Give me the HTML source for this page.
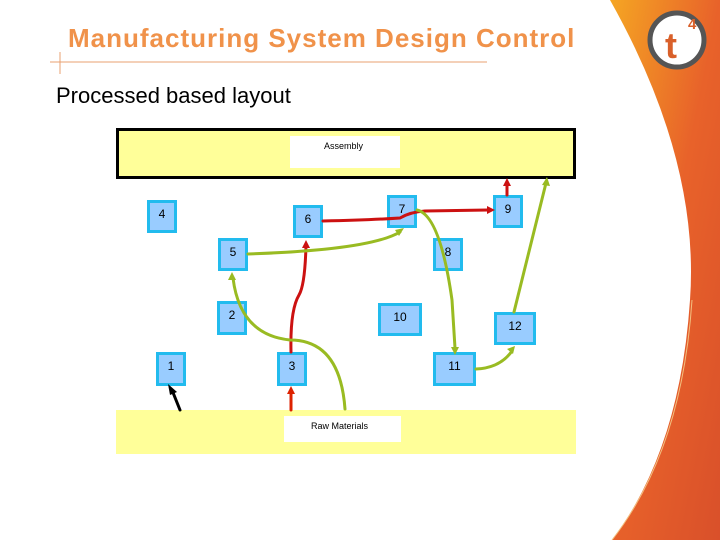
<!DOCTYPE html>
<html><head><style>
body{margin:0;width:720px;height:540px;overflow:hidden;background:#fff;font-family:"Liberation Sans",sans-serif;position:relative}
.t{position:absolute;white-space:nowrap}
.b{position:absolute;background:#99ccff;border:3px solid #22bbee;box-sizing:border-box;font-size:12px;text-align:center;line-height:22px}
</style></head><body>
<svg width="720" height="540" style="position:absolute;left:0;top:0">
<defs>
<linearGradient id="g" x1="0" y1="0" x2="1" y2="1"><stop offset="0" stop-color="#f5a623"/><stop offset="0.5" stop-color="#e8622a"/><stop offset="1" stop-color="#d9502a"/></linearGradient>
</defs>
<path d="M610 0 Q700 160 690 300 Q680 450 612 540 L720 540 L720 0Z" fill="url(#g)"/>
<path d="M612 540 Q682 450 692 300" fill="none" stroke="#f3c080" stroke-width="1"/>
<circle cx="677" cy="40" r="27" fill="#fff" stroke="#555" stroke-width="5"/>
<text x="665" y="58" font-family="Liberation Sans" font-weight="bold" font-size="36" fill="#d9602a">t</text>
<text x="688" y="29" font-family="Liberation Sans" font-weight="bold" font-size="15" fill="#d9602a">4</text>
<line x1="50" y1="62" x2="487" y2="62" stroke="#e8a070" stroke-width="1"/>
<line x1="60" y1="52" x2="60" y2="74" stroke="#e8a070" stroke-width="1"/>
<rect x="117.5" y="129.5" width="457" height="48" fill="#ffff99" stroke="#000" stroke-width="3"/>
<rect x="290" y="136" width="110" height="32" fill="#fff"/>
<rect x="116" y="410" width="460" height="44" fill="#ffff99"/>
<rect x="284" y="416" width="117" height="26" fill="#fff"/>
</svg>
<div class="t" style="left:68px;top:23px;font-size:26px;letter-spacing:1px;font-weight:bold;color:#f0924a">Manufacturing System Design Control</div>
<div class="t" style="left:56px;top:83px;font-size:22px">Processed based layout</div>
<div class="t" style="left:324px;top:141px;font-size:9px">Assembly</div>
<div class="t" style="left:311px;top:421px;font-size:9px">Raw Materials</div>
<div class="b" style="left:147px;top:200px;width:30px;height:33px">4</div>
<div class="b" style="left:293px;top:205px;width:30px;height:33px">6</div>
<div class="b" style="left:387px;top:195px;width:30px;height:33px">7</div>
<div class="b" style="left:493px;top:195px;width:30px;height:33px">9</div>
<div class="b" style="left:218px;top:238px;width:30px;height:33px">5</div>
<div class="b" style="left:433px;top:238px;width:30px;height:33px">8</div>
<div class="b" style="left:217px;top:301px;width:30px;height:34px">2</div>
<div class="b" style="left:378px;top:303px;width:44px;height:33px">10</div>
<div class="b" style="left:494px;top:312px;width:42px;height:33px">12</div>
<div class="b" style="left:156px;top:352px;width:30px;height:34px">1</div>
<div class="b" style="left:277px;top:352px;width:30px;height:34px">3</div>
<div class="b" style="left:433px;top:352px;width:43px;height:34px">11</div>
<svg width="720" height="540" style="position:absolute;left:0;top:0">
<g fill="none" stroke-width="3" stroke-linecap="round">
<path d="M180 410 L172 390" stroke="#000"/>
<path d="M291 410 L291 390" stroke="#dd2200"/>
<path d="M291 352 Q290 310 299 295 Q305 285 306 245" stroke="#cc1111"/>
<path d="M323 221 Q370 220 400 218 Q410 212 425 211 L488 210" stroke="#cc1111"/>
<path d="M507 195 L507 184" stroke="#cc1111"/>
<path d="M345 409 Q340 340 290 340 Q240 335 233 278" stroke="#99bb22"/>
<path d="M248 254 Q370 250 400 232" stroke="#99bb22"/>
<path d="M417 210 Q440 215 452 300 L455 348" stroke="#99bb22"/>
<path d="M476 369 Q500 368 512 351" stroke="#99bb22"/>
<path d="M514 312 L546 183" stroke="#99bb22"/>
</g>
<g>
<polygon points="168,384 170,395 177,392" fill="#000"/>
<polygon points="291,386 287,394 295,394" fill="#dd2200"/>
<polygon points="306,240 302,248 310,248" fill="#cc1111"/>
<polygon points="495,210 487,206 487,214" fill="#cc1111"/>
<polygon points="507,178 503,186 511,186" fill="#cc1111"/>
<polygon points="232,272 228,280 236,280" fill="#99bb22"/>
<polygon points="404,228 395,230 399,236" fill="#99bb22"/>
<polygon points="455,355 451,347 459,347" fill="#99bb22"/>
<polygon points="515,346 507,349 513,354" fill="#99bb22"/>
<polygon points="547,177 542,185 550,186" fill="#99bb22"/>
</g>
</svg>
</body></html>
